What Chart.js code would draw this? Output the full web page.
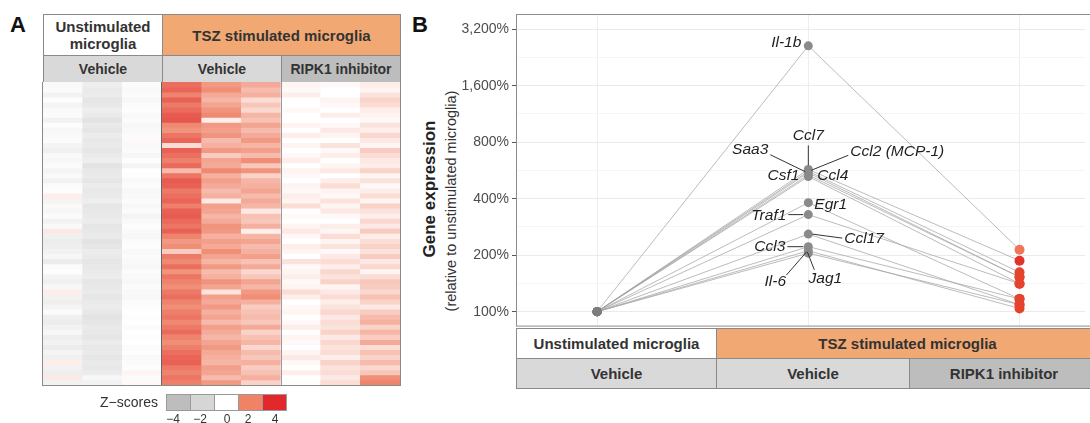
<!DOCTYPE html>
<html><head><meta charset="utf-8">
<script src="https://cdn.jsdelivr.net/npm/chart.js@4"></script>
<style>
body{margin:0;background:#fff;width:1090px;height:423px;overflow:hidden;position:relative;font-family:'Liberation Sans',Arial,sans-serif;color:#333}
.abs{position:absolute;box-sizing:border-box}
.cell{position:absolute;box-sizing:border-box;display:flex;align-items:center;justify-content:center;text-align:center;font-weight:bold;color:#333;border:1px solid #8a8a8a;white-space:nowrap}
.rot{position:absolute;white-space:nowrap;transform:translate(-50%,-50%) rotate(-90deg)}
.lg{position:absolute;font-size:12px;color:#333;transform:translate(-50%,-50%)}
</style></head><body>

<!-- Panel A -->
<div class="abs" style="left:10px;top:12px;font-size:22px;font-weight:bold;color:#111">A</div>
<div class="cell" style="left:43px;top:14px;width:120px;height:42px;background:#fff;font-size:15px;line-height:17px">Unstimulated<br>microglia</div>
<div class="cell" style="left:162px;top:14px;width:239px;height:42px;background:#f2a873;font-size:15px">TSZ stimulated microglia</div>
<div class="cell" style="left:43px;top:55px;width:120px;height:28px;background:#d9d9d9;font-size:14px">Vehicle</div>
<div class="cell" style="left:162px;top:55px;width:120px;height:28px;background:#d9d9d9;font-size:14px">Vehicle</div>
<div class="cell" style="left:281px;top:55px;width:120px;height:28px;background:#bdbdbd;font-size:14px">RIPK1 inhibitor</div>
<canvas id="heat" class="abs" width="357" height="303" style="left:43px;top:82px"></canvas>
<div class="abs" style="left:42px;top:82px;width:359px;height:304px;border:1px solid #8a8a8a;border-top:none"></div>
<div class="abs" style="left:161px;top:82px;width:1px;height:303px;background:#666"></div>
<div class="abs" style="left:281px;top:82px;width:1px;height:303px;background:#9a9a9a"></div>
<!-- legend -->
<div class="abs" style="left:60px;top:394px;width:98px;text-align:right;font-size:14px;line-height:17px;color:#333">Z−scores</div>
<div id="legendBoxes"></div>

<!-- Panel B -->
<div class="abs" style="left:412px;top:12px;font-size:22px;font-weight:bold;color:#111">B</div>
<div class="rot" style="left:430px;top:189px;font-size:17px;font-weight:bold;color:#222">Gene expression</div>
<div class="rot" style="left:451px;top:201px;font-size:14.5px;color:#333">(relative to unstimulated microglia)</div>
<canvas id="lines" class="abs" width="650" height="337" style="left:440px;top:0px"></canvas>
<div class="cell" style="left:516px;top:328px;width:201px;height:31px;background:#fff;font-size:15px">Unstimulated microglia</div>
<div class="cell" style="left:716px;top:328px;width:383px;height:31px;background:#f2a873;font-size:15px">TSZ stimulated microglia</div>
<div class="cell" style="left:516px;top:358px;width:201px;height:31px;background:#d9d9d9;font-size:15px">Vehicle</div>
<div class="cell" style="left:716px;top:358px;width:194px;height:31px;background:#d9d9d9;font-size:15px">Vehicle</div>
<div class="cell" style="left:909px;top:358px;width:190px;height:31px;background:#bdbdbd;font-size:15px">RIPK1 inhibitor</div>

<script>
// ================= DATA =================
// Panel A: heatmap samples (columns) and z-score rows (one row per gene)
const heatSamples = ['Unstim-Veh-1','Unstim-Veh-2','Unstim-Veh-3','TSZ-Veh-1','TSZ-Veh-2','TSZ-Veh-3','TSZ-RIPK1i-1','TSZ-RIPK1i-2','TSZ-RIPK1i-3'];
const zScores = [
 [-0.3,-0.8,-0.2, 2.6,1.8,1.5, 0.2,0.1,0.3],
 [-0.2,-1.0,-0.3, 2.8,2.0,1.2, 0.1,0.0,0.2],
 [-0.6,-0.9,-0.2, 2.2,1.5,1.4, 0.3,0.0,0.5],
 [-0.1,-1.2,-0.4, 2.9,1.3,0.6, 0.0,0.2,0.8],
 [-0.5,-1.1,-0.2, 2.4,1.6,1.0, 0.0,0.1,0.6],
 [-0.3,-0.8,-0.1, 2.7,1.9,0.7, 0.1,0.0,0.3],
 [-0.2,-1.0,-0.3, 3.0,2.1,1.3, 0.0,0.3,0.2],
 [-0.6,-1.3,-0.2, 3.1,0.3,1.1, 0.0,0.0,0.1],
 [-0.1,-1.0,-0.4, 2.1,1.8,1.6, 0.2,0.1,0.5],
 [-0.4,-1.2,-0.3, 1.9,1.7,1.2, 0.0,0.4,0.3],
 [-0.3,-0.9,-0.2, 2.5,1.9,1.5, 0.3,0.2,0.7],
 [-0.2,-1.1, 0.1, 2.8,1.2,1.8, 0.0,0.0,0.4],
 [-0.5,-1.0,-0.3, 0.6,1.4,1.3, 0.2,0.5,0.2],
 [-0.7,-1.2,-0.2, 2.9,1.8,1.7, 0.0,0.1,0.9],
 [-0.3,-1.0,-0.4, 2.6,0.9,1.2, 0.1,0.3,0.6],
 [-0.4,-0.8,-0.1, 2.3,1.6,2.0, 0.3,0.0,0.4],
 [-0.2,-1.3,-0.5, 2.7,1.5,1.0, 0.0,0.2,0.3],
 [-0.5,-1.1, 0.0, 1.2,2.1,1.9, 0.2,0.4,0.8],
 [-0.3,-1.0,-0.1, 2.5,1.4,0.8, 0.1,0.0,0.2],
 [-0.6,-1.2,-0.3, 3.0,1.7,1.3, 0.0,0.3,0.5],
 [-0.2,-0.9,-0.2, 2.9,1.5,1.4, 0.2,0.6,0.1],
 [-0.1,-1.1,-0.4, 2.4,1.2,1.6, 0.1,0.2,0.3],
 [ 0.3,-1.0,-0.3, 2.6,1.4,1.2, 0.3,0.1,0.6],
 [-0.5,-0.8,-0.2, 2.8,0.4,1.5, 0.2,0.5,0.2],
 [-0.3,-1.2,-0.4, 2.3,1.7,1.3, 0.6,0.2,0.8],
 [-0.4,-1.1,-0.2, 2.9,1.6,0.4, 0.0,0.4,0.5],
 [-0.2,-1.0,-0.5, 3.0,1.3,1.1, 0.1,0.1,0.3],
 [-0.6,-0.9,-0.3, 2.7,1.5,1.0, 0.0,0.0,0.7],
 [-0.3,-1.2,-0.1, 2.5,1.9,1.4, 0.2,0.3,0.4],
 [ 0.4,-1.1,-0.3, 2.9,1.8,0.3, 0.4,0.2,0.9],
 [-0.7,-1.0,-0.4, 2.2,1.4,1.3, 0.1,0.6,0.3],
 [-0.9,-1.3,-0.2, 1.8,1.7,1.6, 0.0,0.2,0.6],
 [-0.8,-1.2,-0.1, 2.0,1.5,1.2, 0.3,0.5,0.8],
 [-0.6,-0.9,-0.3, 0.9,2.0,1.4, 0.2,0.1,0.5],
 [-0.4,-1.0,-0.2, 2.4,1.6,1.7, 0.0,0.4,0.9],
 [-0.9,-1.2,-0.3, 2.1,1.3,1.1, 0.5,0.6,0.4],
 [-0.2,-1.1,-0.4, 2.6,1.8,1.5, 0.1,0.3,0.7],
 [-0.1,-1.0,-0.2, 1.9,1.2,0.7, 0.2,0.7,0.2],
 [-0.5,-0.9,-0.3, 2.5,1.4,1.0, 0.3,0.5,0.6],
 [-0.7,-1.2,-0.4, 2.2,1.9,1.6, 0.1,0.8,1.0],
 [-0.4,-1.1,-0.2, 2.0,1.6,1.3, 0.2,0.2,0.9],
 [ 0.3,-1.0,-0.3, 2.4,0.5,1.8, 0.6,0.4,0.7],
 [-0.6,-1.2,-0.4, 2.6,1.7,2.0, 0.3,0.6,1.1],
 [-0.8,-1.0,-0.2, 2.2,1.5,1.4, 0.0,0.3,0.8],
 [-0.5,-0.9,-0.1, 2.0,1.8,0.9, 0.1,0.5,0.4],
 [-0.2,-1.1, 0.0, 2.3,1.4,1.1, 0.2,0.7,0.9],
 [-0.7,-1.3,-0.1, 2.5,1.6,1.2, 0.0,0.4,1.2],
 [-0.9,-1.2, 0.0, 2.1,1.2,1.0, 0.1,0.6,1.4],
 [-0.6,-1.0,-0.2, 2.4,1.7,1.5, 0.3,0.5,0.8],
 [-0.4,-1.1, 0.0, 2.7,1.5,0.8, 0.0,0.8,1.3],
 [-0.8,-1.2,-0.1, 2.2,1.3,1.1, 0.2,0.4,0.9],
 [-0.6,-0.9, 0.0, 2.0,1.6,1.3, 0.1,0.7,1.5],
 [-0.9,-1.1,-0.2, 2.3,1.8,0.7, 0.0,0.5,0.6],
 [-0.5,-1.0,-0.1, 2.6,1.5,1.2, 0.2,0.6,1.1],
 [-0.7,-1.2,-0.3, 2.8,1.4,1.0, 0.4,0.3,0.8],
 [ 0.3,-1.0,-0.2, 2.9,1.3,1.4, 0.1,0.8,1.2],
 [-0.6,-1.1,-0.1, 2.4,1.7,0.9, 0.0,0.5,0.7],
 [-0.8,-0.9, 0.2, 2.2,1.6,1.1, 0.3,0.6,1.0],
 [ 0.4,-0.4,-0.2, 2.5,1.2,1.4, 0.0,0.4,2.0],
 [-0.6,-0.6, 0.1, 2.3,1.8,0.8,-0.1,0.6,2.2]
];
const legendValues = [-4,-2,0,2,4];
const legendLabels = ['−4','−2','0','2','4'];

// Panel B: conditions (x), genes, expression relative to unstimulated microglia (%)
const conditions = [1,2,3]; // Unstimulated/Vehicle, TSZ/Vehicle, TSZ/RIPK1 inhibitor
const genes          = ['Il-1b','Ccl7','Ccl2 (MCP-1)','Saa3','Ccl4','Csf1','Egr1','Traf1','Ccl17','Ccl3','Jag1','Il-6'];
const unstimulatedPct= [100,100,100,100,100,100,100,100,100,100,100,100];
const tszVehiclePct  = [2610,573,560,550,535,525,381,329,259,222,211,205];
const tszRipk1Pct    = [214,187,162,153,153,141,117,141,109,117,104,109];
const yTickValues    = [100,200,400,800,1600,3200];

// ================= STYLE / LAYOUT =================
const FONT = "'Liberation Sans', Arial, sans-serif";
const ripk1PointColor = {'Il-1b':'#ef7656','Ccl7':'#e2332b'};
const labelLayout = {
 'Il-1b':       {dx:-7, dy:-3, align:'right'},
 'Ccl7':        {dx:0,  dy:-34, align:'center', line:[0,-24,0,-4]},
 'Saa3':        {dx:-40,dy:-23, align:'right', line:[-38,-18,-3,-1]},
 'Ccl2 (MCP-1)':{dx:42, dy:-20, align:'left',  line:[40,-16,3,-1]},
 'Csf1':        {dx:-9, dy:-1, align:'right'},
 'Ccl4':        {dx:9,  dy:1,  align:'left'},
 'Egr1':        {dx:6,  dy:2,  align:'left'},
 'Traf1':       {dx:-22,dy:1,  align:'right', line:[-20,0,-5,0]},
 'Ccl17':       {dx:36, dy:5,  align:'left',  line:[4,0,34,4]},
 'Ccl3':        {dx:-23,dy:0,  align:'right', line:[-21,0,-5,0]},
 'Il-6':        {dx:-33,dy:29, align:'center',line:[-22,22,-2,-1]},
 'Jag1':        {dx:17, dy:28, align:'center',line:[6,19,-1,1]}
};

function zColor(z){
  let r,g,b;
  if (z < 0){ const t=Math.min(-z/4,1); r=g=b=Math.round(255-85*t); }
  else if (z <= 2){ const t=z/2; r=Math.round(255-15*t); g=Math.round(255-113*t); b=Math.round(255-137*t); }
  else { const t=Math.min((z-2)/2,1); r=Math.round(240-16*t); g=Math.round(142-102*t); b=Math.round(118-76*t); }
  return 'rgb('+r+','+g+','+b+')';
}

// legend boxes (HTML)
(function(){
  const host=document.getElementById('legendBoxes');
  const lx=[173,200,227,248,275];
  legendValues.forEach((v,i)=>{
    const d=document.createElement('div');
    d.className='abs';
    d.style.cssText='left:'+(166+i*24)+'px;top:394px;width:25px;height:17px;border:1px solid #9a9a9a;background:'+(v===-4?'#bdbdbd':v===-2?'#d6d6d6':v===0?'#ffffff':v===2?'#f08266':'#e2282b');
    host.appendChild(d);
    const t=document.createElement('div');
    t.className='lg'; t.textContent=legendLabels[i];
    t.style.left=lx[i]+'px'; t.style.top='419px';
    host.appendChild(t);
  });
})();

// ================= PANEL A: heatmap as stacked bars =================
new Chart(document.getElementById('heat'), {
  type:'bar',
  data:{
    labels: heatSamples,
    datasets: zScores.map((row,i)=>({
      label:'gene '+(i+1),
      data: row.map(()=>1),           // each cell is one unit tall; colour encodes the z-score
      backgroundColor: row.map(zColor),
      borderWidth:0, categoryPercentage:1, barPercentage:1
    }))
  },
  options:{
    responsive:false, animation:false, events:[],
    layout:{padding:0},
    plugins:{legend:{display:false}, tooltip:{enabled:false}},
    scales:{
      x:{display:false, stacked:true},
      y:{display:false, stacked:true, min:0, max:zScores.length, reverse:true}
    }
  }
});

// ================= PANEL B: line chart =================
const majorSet = new Set(yTickValues);
const gridValues = [];
yTickValues.forEach((v,i)=>{ gridValues.push(v); if(i<yTickValues.length-1) gridValues.push(Math.sqrt(v*yTickValues[i+1])); });

const panelBorder = {
  id:'panelBorder',
  afterDraw(chart){
    const {ctx, chartArea:a} = chart;
    ctx.save(); ctx.strokeStyle='#8c8c8c'; ctx.lineWidth=1;
    ctx.strokeRect(Math.round(a.left)+0.5, Math.round(a.top)+0.5, a.right-a.left+20, a.bottom-a.top);
    ctx.restore();
  }
};
const geneLabels = {
  id:'geneLabels',
  afterDatasetsDraw(chart){
    const ctx=chart.ctx, xs=chart.scales.x, ys=chart.scales.y;
    ctx.save();
    ctx.font='italic 15.5px '+FONT; ctx.textBaseline='middle';
    ctx.fillStyle='#1f1f1f'; ctx.strokeStyle='#333'; ctx.lineWidth=1;
    genes.forEach((g,i)=>{
      const L=labelLayout[g];
      const px=xs.getPixelForValue(conditions[1]);
      const py=ys.getPixelForValue(tszVehiclePct[i]);
      if(L.line){ ctx.beginPath(); ctx.moveTo(px+L.line[0],py+L.line[1]); ctx.lineTo(px+L.line[2],py+L.line[3]); ctx.stroke(); }
      ctx.textAlign=L.align;
      ctx.fillText(g, px+L.dx, py+L.dy);
    });
    ctx.restore();
  }
};

new Chart(document.getElementById('lines'), {
  type:'line',
  data:{
    datasets: genes.map((g,i)=>({
      label:g,
      data:[{x:conditions[0],y:unstimulatedPct[i]},{x:conditions[1],y:tszVehiclePct[i]},{x:conditions[2],y:tszRipk1Pct[i]}],
      borderColor:'rgba(165,165,165,0.75)', borderWidth:1, tension:0, fill:false,
      pointRadius:[4.5,4.5,5], pointBorderWidth:0,
      pointBackgroundColor:['#7d7d7d','#8a8a8a', ripk1PointColor[g] || '#e6432f']
    }))
  },
  options:{
    responsive:false, animation:false, events:[],
    layout:{padding:{top:14,bottom:10,left:0,right:0}},
    plugins:{legend:{display:false}, tooltip:{enabled:false}},
    scales:{
      x:{
        type:'linear', min:0.616, max:3.31, position:'bottom',
        afterBuildTicks:s=>{ s.ticks=conditions.map(v=>({value:v})); },
        afterFit:s=>{ s.height=0; },
        ticks:{display:false},
        grid:{color:'#eeeeee', drawTicks:false},
        border:{display:false}
      },
      y:{
        type:'logarithmic', min:84.3, max:3857,
        afterBuildTicks:s=>{ s.ticks=gridValues.map(v=>({value:v})); },
        afterFit:s=>{ s.width=76; },
        ticks:{
          autoSkip:false, padding:3, color:'#4d4d4d', font:{size:14, family:FONT},
          callback:(v)=> majorSet.has(v) ? v.toLocaleString('en-US')+'%' : ''
        },
        grid:{
          color:c=> (c.tick && majorSet.has(c.tick.value)) ? '#ebebeb' : '#f6f6f6',
          tickColor:c=> (c.tick && majorSet.has(c.tick.value)) ? '#555' : 'rgba(0,0,0,0)',
          tickLength:4, drawTicks:true
        },
        border:{display:false}
      }
    }
  },
  plugins:[panelBorder, geneLabels]
});
</script>
</body></html>
